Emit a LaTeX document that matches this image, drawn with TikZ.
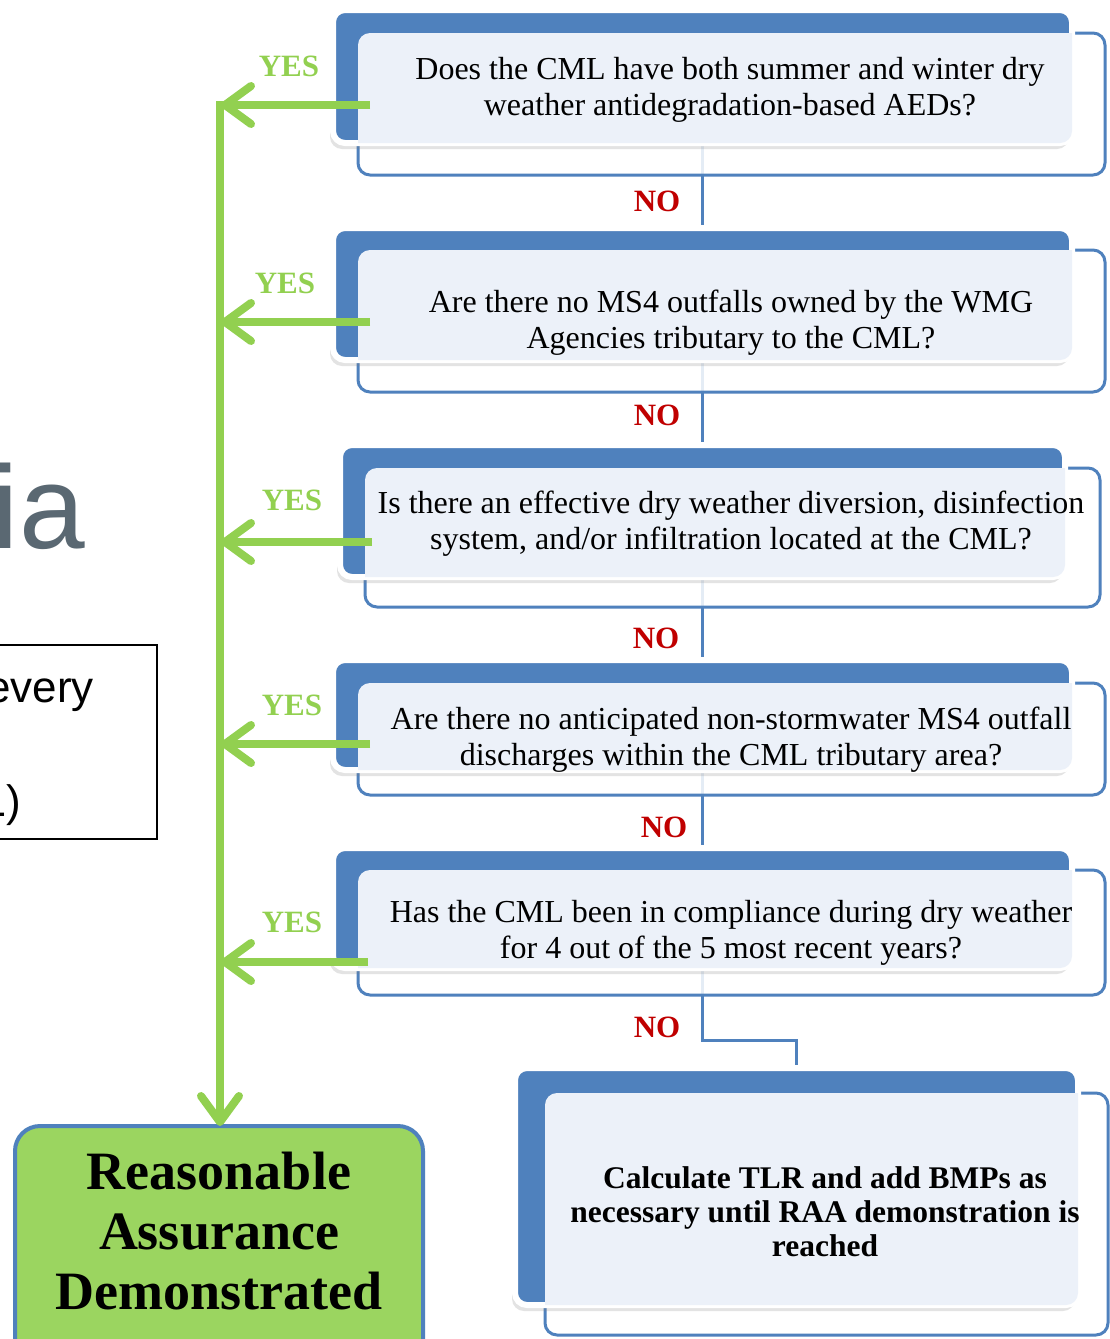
\documentclass[tikz,border=0pt]{standalone}
\usepackage{fontspec}
\setmainfont{Liberation Serif}
\newfontfamily\sansf{Liberation Sans}
\usetikzlibrary{arrows.meta,shadows,backgrounds,calc}
\definecolor{qblue}{RGB}{79,129,189}
\definecolor{qlight}{RGB}{236,241,249}
\definecolor{ygreen}{RGB}{146,208,80}
\definecolor{gboxfill}{RGB}{155,213,96}
\definecolor{nored}{RGB}{192,0,0}
\definecolor{titlegray}{RGB}{90,104,114}
\tikzset{
  bluebox/.style={rectangle, rounded corners=12pt, fill=qblue, draw=white, line width=6pt,
    outer sep=0pt, inner sep=0pt,
    drop shadow={shadow xshift=-3pt, shadow yshift=-6pt, opacity=0.22}},
  lightbox/.style={rectangle, rounded corners=12pt, draw=qblue, line width=3pt,
    fill=white, fill opacity=0.85, outer sep=0pt, inner sep=0pt},
  qtext/.style={align=center, inner sep=0pt, font=\fontsize{32}{36}\selectfont},
  btext/.style={align=center, inner sep=0pt, font=\bfseries\fontsize{31.5}{34}\selectfont},
  nolabel/.style={inner sep=0pt, text=nored, font=\bfseries\fontsize{31}{36}\selectfont},
  yeslabel/.style={inner sep=0pt, text=ygreen, font=\bfseries\fontsize{31}{36}\selectfont},
  noline/.style={draw=qblue, line width=3pt},
  yesarrow/.style={draw=ygreen, line width=8pt, -{Straight Barb[length=26pt, width=38pt, round]}},
}
\newcommand{\lightfill}[2]{%
  \begin{scope}
    \clip[rounded corners=12pt] (#1.south west) rectangle (#1.north east);
    \fill[qlight, rounded corners=12pt] (#2.south west) rectangle (#2.north east);
  \end{scope}}
\begin{document}
\begin{tikzpicture}[x=1pt, y=-1pt]
\useasboundingbox (0,0) rectangle (1110,1339);
\clip (0,0) rectangle (1110,1339);

% left slide fragment (cut off at the left edge, as in the reference)
\node[font=\sansf\fontsize{118}{130}\selectfont, text=titlegray, anchor=base east, inner sep=0pt] (ttl) at (85,548) {ia};
\node[draw=black, line width=2pt, minimum width=177, minimum height=194, inner sep=0pt, outer sep=0pt] (tbox) at (68.5,742) {};
\node[font=\sansf\fontsize{44}{50}\selectfont, anchor=base east, inner sep=0pt] (tb1) at (94,702) {every};
\node[font=\sansf\fontsize{44}{50}\selectfont, anchor=base east, inner sep=0pt] (tb2) at (21,816) {L)};

% row 1
\node[lightbox, minimum width=747, minimum height=142] (l1) at (731.5,104) {};
\node[bluebox, minimum width=739, minimum height=133] (b1) at (702.5,76.5) {};
\lightfill{b1}{l1}
\node[qtext] (t1) at (730,90) {\strut Does the CML have both summer and winter dry\\\strut weather antidegradation-based AEDs?};

% row 2
\node[lightbox, minimum width=747, minimum height=142] (l2) at (731.5,321) {};
\node[bluebox, minimum width=739, minimum height=132] (b2) at (702.5,294) {};
\lightfill{b2}{l2}
\node[qtext] (t2) at (731,323) {\strut Are there no MS4 outfalls owned by the WMG\\\strut Agencies tributary to the CML?};

% row 3
\node[lightbox, minimum width=735, minimum height=139] (l3) at (732.5,537.5) {};
\node[bluebox, minimum width=725, minimum height=132] (b3) at (702.5,511) {};
\lightfill{b3}{l3}
\node[qtext] (t3) at (731,524) {\strut Is there an effective dry weather diversion, disinfection\\\strut system, and/or infiltration located at the CML?};

% row 4
\node[lightbox, minimum width=747, minimum height=112] (l4) at (731.5,739) {};
\node[bluebox, minimum width=739, minimum height=110] (b4) at (702.5,715) {};
\lightfill{b4}{l4}
\node[qtext] (t4) at (731,740) {\strut Are there no anticipated non-stormwater MS4 outfall\\\strut discharges within the CML tributary area?};

% row 5
\node[lightbox, minimum width=747, minimum height=125] (l5) at (731.5,932.5) {};
\node[bluebox, minimum width=739, minimum height=120] (b5) at (702.5,908) {};
\lightfill{b5}{l5}
\node[qtext] (t5) at (731,933) {\strut Has the CML been in compliance during dry weather\\\strut for 4 out of the 5 most recent years?};

% row 6
\node[lightbox, minimum width=563, minimum height=242] (l6) at (826.5,1214) {};
\node[bluebox, minimum width=563, minimum height=237] (b6) at (796.5,1186.5) {};
\lightfill{b6}{l6}
\node[btext] (t6) at (825,1216) {\strut Calculate TLR and add BMPs as\\\strut necessary until RAA demonstration is\\\strut reached};

% green result box
\node[rectangle, rounded corners=25pt, fill=gboxfill, draw=qblue, line width=4pt, minimum width=408, minimum height=250, inner sep=0pt, outer sep=0pt] (gbox) at (219,1251) {};
\node[align=center, inner sep=0pt, font=\bfseries\fontsize{54}{60}\selectfont] (gtext) at (219,1237) {\strut Reasonable\\\strut Assurance\\\strut Demonstrated};

% NO labels
\node[nolabel] (no1) at (657,201) {NO};
\node[nolabel] (no2) at (657,415) {NO};
\node[nolabel] (no3) at (656,638) {NO};
\node[nolabel] (no4) at (664,827) {NO};
\node[nolabel] (no5) at (657,1027) {NO};

% YES labels
\node[yeslabel] (yes1) at (289,66) {YES};
\node[yeslabel] (yes2) at (285,283) {YES};
\node[yeslabel] (yes3) at (292,500) {YES};
\node[yeslabel] (yes4) at (292,705) {YES};
\node[yeslabel] (yes5) at (292,922) {YES};

% YES arrows
\coordinate (ys1) at (370,105);  \coordinate (ye1) at (221,105);
\coordinate (ys2) at (370,322);  \coordinate (ye2) at (221,322);
\coordinate (ys3) at (372,542);  \coordinate (ye3) at (221,542);
\coordinate (ys4) at (370,744);  \coordinate (ye4) at (221,744);
\coordinate (ys5) at (368,962);  \coordinate (ye5) at (221,962);
\coordinate (vtop) at (220,101);
\foreach \i in {1,...,5} { \draw[yesarrow] (ys\i) -- (ye\i); }
\draw[yesarrow] (vtop) -- (vtop |- gbox.north);

% NO connectors (behind)
\begin{scope}[on background layer]
  \fill[white] (0,0) rectangle (1110,1339);
  \draw[noline] (b1.south) -- (b2.north);
  \draw[noline] (b2.south) -- (b3.north);
  \draw[noline] (b3.south) -- (b4.north);
  \draw[noline] (b4.south) -- (b5.north);
  \draw[noline] (b5.south) -- ++(0,72) -| (b6.north);
\end{scope}
\end{tikzpicture}
\end{document}
